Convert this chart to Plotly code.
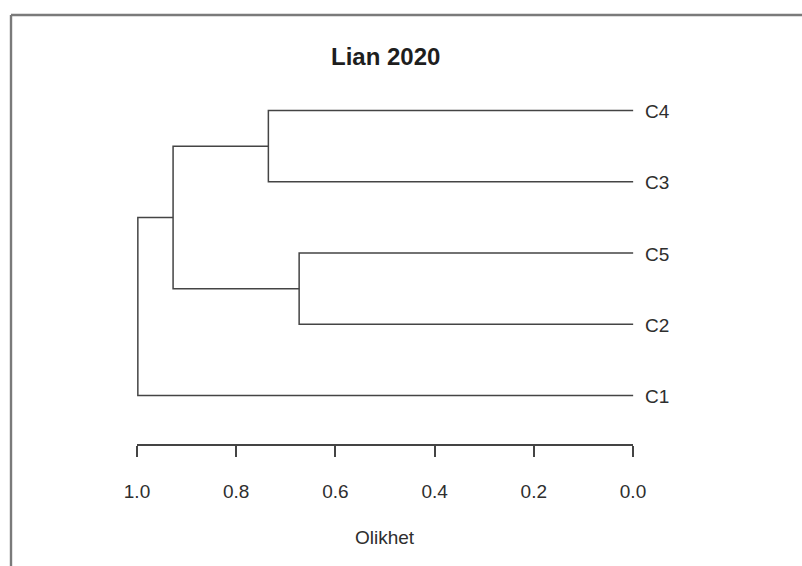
import plotly.graph_objects as go

# Leaves, bottom to top as they are stacked on the plot
leaf_order = ["C1", "C2", "C5", "C3", "C4"]

# Agglomeration steps: (left child, right child, merge height)
merges = [
    ("C2", "C5", 0.673),
    ("C3", "C4", 0.735),
    ("m1", "m2", 0.927),
    ("C1", "m3", 0.998),
]

tick_vals = [1.0, 0.8, 0.6, 0.4, 0.2, 0.0]
tick_text = ["1.0", "0.8", "0.6", "0.4", "0.2", "0.0"]

title_text = "Lian 2020"
axis_title = "Olikhet"

# --- page geometry (pixels) ---
W, H = 802, 566
M_L, M_R, M_T, M_B = 117, 149, 75, 122
X_RANGE = [1.04, -0.04]
Y_RANGE = [0.32, 5.5]

LINE = "#444444"
TEXT = "#2e2e2e"
FONT = "Liberation Sans, Arial, sans-serif"


def px_to_paper_x(px):
    return (px - M_L) / (W - M_L - M_R)


def px_to_paper_y(py):
    return (H - M_B - py) / (H - M_T - M_B)


# node positions: y = leaf slot, h = height
pos = {name: (i + 1, 0.0) for i, name in enumerate(leaf_order)}
xs, ys = [], []
for k, (a, b, h) in enumerate(merges, start=1):
    ya, ha = pos[a]
    yb, hb = pos[b]
    # rectangle-style link: left arm, vertical join, right arm
    xs += [ha, h, h, hb, None]
    ys += [ya, ya, yb, yb, None]
    pos[f"m{k}"] = ((ya + yb) / 2, h)

fig = go.Figure()
fig.add_trace(go.Scatter(
    x=xs, y=ys, mode="lines",
    line=dict(color=LINE, width=1.5),
    hoverinfo="skip", showlegend=False,
))
# invisible trace that carries the distance axis
fig.add_trace(go.Scatter(
    x=[tick_vals[0], tick_vals[-1]], y=[0, 0],
    xaxis="x2", yaxis="y2", mode="markers", marker=dict(opacity=0),
    hoverinfo="skip", showlegend=False,
))

annotations = []
for name in leaf_order:
    y, h = pos[name]
    annotations.append(dict(
        x=h, y=y, xref="x", yref="y", text=name, showarrow=False,
        xanchor="left", yanchor="middle", xshift=10, yshift=-1,
        font=dict(family=FONT, size=19, color=TEXT),
    ))

annotations.append(dict(
    x=0.5, y=px_to_paper_y(57), xref="paper", yref="paper",
    text=f"<b>{title_text}</b>", showarrow=False,
    xanchor="center", yanchor="middle",
    font=dict(family=FONT, size=24, color="#1e1e1e"),
))
annotations.append(dict(
    x=0.5, y=px_to_paper_y(537), xref="paper", yref="paper",
    text=axis_title, showarrow=False,
    xanchor="center", yanchor="middle",
    font=dict(family=FONT, size=19, color=TEXT),
))

# frame running along the top and left of the figure
shapes = [
    dict(type="line", xref="paper", yref="paper",
         x0=px_to_paper_x(11), x1=px_to_paper_x(W + 5),
         y0=px_to_paper_y(15), y1=px_to_paper_y(15),
         line=dict(color="#7a7a7a", width=2.4)),
    dict(type="line", xref="paper", yref="paper",
         x0=px_to_paper_x(11), x1=px_to_paper_x(11),
         y0=px_to_paper_y(15), y1=px_to_paper_y(H + 5),
         line=dict(color="#7a7a7a", width=2.4)),
]

fig.update_layout(
    width=W, height=H,
    margin=dict(l=M_L, r=M_R, t=M_T, b=M_B, pad=0),
    paper_bgcolor="white", plot_bgcolor="rgba(0,0,0,0)",
    showlegend=False,
    xaxis=dict(range=X_RANGE, visible=False, fixedrange=True),
    yaxis=dict(range=Y_RANGE, visible=False, fixedrange=True),
    xaxis2=dict(
        range=[tick_vals[0], tick_vals[-1]],
        domain=[px_to_paper_x(137), px_to_paper_x(633)],
        anchor="y2", side="bottom",
        showline=True, linecolor=LINE, linewidth=1.5,
        ticks="outside", ticklen=11, tickwidth=1.5, tickcolor=LINE,
        tickvals=tick_vals, ticktext=tick_text,
        ticklabelstandoff=18,
        tickfont=dict(family=FONT, size=19, color=TEXT),
        showgrid=False, zeroline=False, fixedrange=True,
    ),
    yaxis2=dict(domain=[0, 0.001], range=[0, 1], visible=False,
                fixedrange=True),
    annotations=annotations,
    shapes=shapes,
)

fig.write_html("out.html")
